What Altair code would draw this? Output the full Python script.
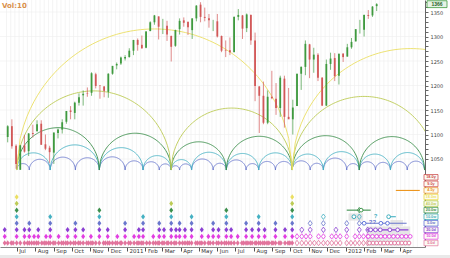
import altair as alt
import numpy as np
import pandas as pd

# ---------------- weekly price bars ----------------
week_start = pd.date_range("2010-06-14", "2012-02-20", freq="W-MON")
opens = [1095, 1117, 1077, 1028, 1078, 1066, 1103, 1107, 1122, 1080, 1073, 1063, 1103, 1110, 1126, 1149, 1144, 1165, 1180, 1184,
         1185, 1223, 1200, 1198, 1187, 1224, 1241, 1245, 1255,
         1258, 1271, 1293, 1283, 1277, 1311, 1329, 1341, 1321, 1322, 1301, 1281, 1315, 1333, 1330, 1313, 1337, 1365, 1340, 1337,
         1331, 1331, 1301, 1272, 1272, 1268, 1340, 1343, 1317, 1344, 1292, 1198, 1179, 1124, 1177, 1173, 1154, 1214, 1136, 1131,
         1158, 1224, 1238, 1284, 1253, 1263, 1216, 1159, 1244, 1256, 1220, 1265,
         1259, 1278, 1290, 1316, 1314, 1344, 1343, 1362]
highs = [1119, 1131, 1080, 1078, 1099, 1103, 1120, 1129, 1129, 1100, 1077, 1104, 1112, 1131, 1148, 1158, 1167, 1184, 1190, 1196,
         1227, 1226, 1200, 1199, 1225, 1240, 1247, 1259, 1262,
         1276, 1293, 1296, 1302, 1311, 1331, 1344, 1341, 1336, 1332, 1302, 1314, 1337, 1339, 1330, 1337, 1364, 1370, 1359, 1346,
         1334, 1346, 1302, 1292, 1298, 1341, 1356, 1344, 1347, 1345, 1308, 1199, 1208, 1190, 1230, 1205, 1220, 1220, 1195, 1171,
         1224, 1239, 1292, 1285, 1277, 1266, 1217, 1253, 1267, 1266, 1265, 1266,
         1285, 1297, 1315, 1334, 1345, 1354, 1362, 1368]
lows = [1084, 1071, 1030, 1028, 1063, 1056, 1094, 1105, 1079, 1068, 1042, 1040, 1092, 1102, 1122, 1131, 1131, 1159, 1159, 1177,
        1179, 1194, 1173, 1176, 1175, 1222, 1233, 1242, 1251,
        1257, 1262, 1271, 1275, 1276, 1311, 1324, 1294, 1305, 1291, 1249, 1279, 1304, 1320, 1303, 1295, 1331, 1329, 1331, 1318,
        1311, 1298, 1268, 1258, 1262, 1268, 1333, 1295, 1309, 1283, 1168, 1103, 1121, 1121, 1172, 1140, 1136, 1114, 1132, 1100,
        1158, 1191, 1221, 1215, 1226, 1209, 1158, 1158, 1232, 1209, 1202, 1248,
        1259, 1275, 1290, 1306, 1300, 1336, 1340, 1352]
closes = [1117, 1076, 1040, 1078, 1065, 1102, 1101, 1121, 1079, 1071, 1064, 1104, 1110, 1125, 1148, 1146, 1165, 1176, 1183, 1183,
          1225, 1199, 1199, 1189, 1224, 1240, 1244, 1257, 1258,
          1271, 1293, 1283, 1276, 1310, 1329, 1343, 1320, 1321, 1304, 1279, 1313, 1332, 1328, 1319, 1337, 1363, 1340, 1338, 1333,
          1331, 1300, 1271, 1271, 1268, 1340, 1344, 1316, 1345, 1292, 1199, 1179, 1124, 1177, 1174, 1154, 1216, 1136, 1131, 1155,
          1224, 1238, 1285, 1253, 1263, 1216, 1159, 1244, 1255, 1219, 1265, 1258,
          1278, 1289, 1315, 1316, 1344, 1342, 1361, 1366]

# ---------------- cycle troughs (date, highest cycle level ending there) ----------------
trough_dates = ["2010-06-11", "2010-07-01", "2010-07-14", "2010-07-22", "2010-07-30", "2010-08-06", "2010-08-19", "2010-08-26",
                "2010-09-09", "2010-09-24", "2010-10-07", "2010-10-20", "2010-11-02", "2010-11-16", "2010-11-30", "2010-12-16",
                "2010-12-29", "2011-01-13", "2011-01-21", "2011-01-28", "2011-02-14", "2011-02-24", "2011-03-04", "2011-03-16",
                "2011-03-24", "2011-03-30", "2011-04-08", "2011-04-19", "2011-05-06", "2011-05-17", "2011-05-25", "2011-06-03",
                "2011-06-16", "2011-06-24", "2011-07-05", "2011-07-19", "2011-07-29", "2011-08-09", "2011-08-19", "2011-09-06",
                "2011-09-22", "2011-10-04"]
trough_levels = [3, 8, 3, 4, 2, 3, 2, 5, 2, 3, 4, 3, 2, 6, 3, 2, 4, 2, 3, 5, 2, 4, 3, 7, 3, 4, 3, 5, 3, 2, 4, 3, 6, 3, 2, 4, 3,
                 5, 3, 4, 3, 8]
# 5-day troughs between the larger ones
minor_dates = ["2010-06-16", "2010-06-22", "2010-06-25", "2010-07-07", "2010-07-19", "2010-07-26", "2010-08-03", "2010-08-12",
               "2010-08-16", "2010-08-23", "2010-08-31", "2010-09-03", "2010-09-14", "2010-09-17", "2010-09-21", "2010-09-29",
               "2010-10-04", "2010-10-12", "2010-10-15", "2010-10-26", "2010-10-29", "2010-11-05", "2010-11-10", "2010-11-23",
               "2010-11-26", "2010-12-03", "2010-12-08", "2010-12-13", "2010-12-21", "2010-12-23", "2011-01-04", "2011-01-07",
               "2011-01-18", "2011-01-25", "2011-02-03", "2011-02-08", "2011-02-18", "2011-02-22", "2011-03-01", "2011-03-09",
               "2011-03-11", "2011-03-21", "2011-04-04", "2011-04-12", "2011-04-15", "2011-04-26", "2011-04-29", "2011-05-03",
               "2011-05-11", "2011-05-20", "2011-05-31", "2011-06-08", "2011-06-13", "2011-06-20", "2011-06-29", "2011-07-12",
               "2011-07-15", "2011-07-22", "2011-07-26", "2011-08-03", "2011-08-05", "2011-08-12", "2011-08-16", "2011-08-23",
               "2011-08-26", "2011-08-31", "2011-09-02", "2011-09-12", "2011-09-15", "2011-09-27", "2011-09-30"]
# projected troughs (hollow markers)
proj_dates = ["2011-10-12", "2011-10-20", "2011-10-27", "2011-11-03", "2011-11-10", "2011-11-17", "2011-11-25", "2011-12-02",
              "2011-12-09", "2011-12-16", "2011-12-23", "2012-01-03", "2012-01-10", "2012-01-17", "2012-01-24", "2012-01-31",
              "2012-02-07"]
proj_levels = [2, 3, 2, 4, 1, 2, 5, 1, 2, 3, 2, 4, 1, 2, 6, 2, 3]
# further troughs past the right edge, used only to close the arcs
arc_next_dates = ["2012-02-20", "2012-03-16", "2012-04-13", "2012-05-12", "2012-05-31", "2012-11-03"]
arc_next_levels = [4, 5, 4, 6, 7, 8]

cycle_names = ["5.0d", "10.0d", "20.0d", "5.0w", "10.0w", "20.0w", "40.0w", "18.0m", "4.5y", "9.0y", "18.0y"]
cycle_colors = ["#e2739c", "#e23ee2", "#8a3fd2", "#5066d6", "#2aa5b5", "#2e8c3c", "#a8c43a", "#e8d42a", "#ec9620",
                "#d24a4a", "#c83c3c"]
arc_colors = ["#e2739c", "#e23ee2", "#8a3fd2", "#6876cc", "#44b0c2", "#3c8f4c", "#bccb55", "#ebdf63", "#ec9620",
              "#d24a4a", "#c83c3c"]

X_DOMAIN = [alt.DateTime(year=2010, month=6, date=11, hours=12), alt.DateTime(year=2012, month=5, date=4, hours=8)]
PRICE = alt.Scale(domain=[870.4, 1374.5], nice=False, zero=False)
XS = alt.Scale(domain=X_DOMAIN, nice=False)
ARC_BASE = 1027.5          # common trough line of the arcs
ARC_RATIO = 1.2518         # price units per day, keeps the arcs round on screen
ROW0, ROW_STEP = 865.16, 13.41   # marker rows sit below the price range: row n at ROW0 + n * ROW_STEP
ROW = f"{ROW0} + datum.level * {ROW_STEP}"

# ---------------- frames ----------------
candles = pd.DataFrame({"date": week_start + pd.Timedelta(days=2), "open": opens, "high": highs,
                        "low": lows, "close": closes})

all_t = pd.DataFrame({"date": pd.to_datetime(trough_dates + proj_dates + arc_next_dates),
                      "level": trough_levels + proj_levels + arc_next_levels})
arc_rows = []
for lvl in range(4, 9):
    ts = sorted(all_t.loc[all_t.level >= lvl, "date"].tolist())
    for k, (a, b) in enumerate(zip(ts[:-1], ts[1:])):
        half = (b - a).total_seconds() / 86400 / 2
        for t in np.linspace(-1, 1, 81):
            arc_rows.append({"date": a + pd.Timedelta(days=(t + 1) * half),
                             "p": ARC_BASE + ARC_RATIO * half * np.sqrt(max(0.0, 1 - t * t)),
                             "arc": f"{lvl}-{k}", "level": lvl})
arcs = pd.DataFrame(arc_rows)

dia_rows = []
for d, top in zip(trough_dates, trough_levels):
    for lv in range(1, top + 1):
        dia_rows.append({"date": d, "level": lv, "kind": "filled"})
for d in minor_dates:
    dia_rows.append({"date": d, "level": 1, "kind": "filled"})
for d, top in zip(proj_dates, proj_levels):
    for lv in range(1, top + 1):
        dia_rows.append({"date": d, "level": lv, "kind": "hollow"})
dia = pd.DataFrame(dia_rows)

grid_weeks = pd.DataFrame({"date": pd.date_range("2010-06-14", "2012-05-01", freq="W-MON")})
grid_prices = pd.DataFrame({"p": [1050, 1100, 1150, 1200, 1250, 1300, 1350]})

color_full = alt.Scale(domain=list(range(1, 12)), range=cycle_colors)
color_arc = alt.Scale(domain=list(range(1, 12)), range=arc_colors)
DIAMOND = "M0,-1L0.72,0L0,1L-0.72,0Z"

month_ticks = [alt.DateTime(year=y, month=m, date=1) for y, m in
               [(2010, m) for m in range(7, 13)] + [(2011, m) for m in range(1, 13)] + [(2012, m) for m in range(1, 5)]]
x_axis = alt.Axis(values=month_ticks, grid=False, labelFontSize=5.5,
                  labelColor="#333", labelAlign="left", labelPadding=-3, tickSize=4, tickColor="#555",
                  domainColor="#888", title=None, labelFont="DejaVu Sans", orient="bottom", labelOffset=2,
                  zindex=2,
                  labelExpr="month(datum.value) == 0 ? timeFormat(datum.value, '%Y') : timeFormat(datum.value, '%b')")
y_axis = alt.Axis(orient="right", values=list(range(1050, 1371, 10)), grid=False, labelFontSize=5, labelColor="#444",
                  tickSize=3, tickColor="#666", domainColor="#666", labelPadding=2, title=None, labelFont="DejaVu Sans",
                  labelExpr="datum.value % 50 == 0 ? datum.value : ''")

# every layer carries the same axis definition so the shared axes merge cleanly
AX_X = dict(scale=XS, axis=x_axis)
AX_Y = dict(scale=PRICE, axis=y_axis)

vgrid = alt.Chart(grid_weeks).mark_rule(color="#ececec", strokeWidth=0.6).encode(
    x=alt.X("date:T", **AX_X))
hgrid = alt.Chart(grid_prices).mark_rule(color="#eeeeee", strokeWidth=0.6).encode(
    y=alt.Y("p:Q", **AX_Y))

arc_layer = alt.Chart(arcs).mark_line(clip=True, strokeWidth=0.9).encode(
    x=alt.X("date:T", **AX_X),
    y=alt.Y("p:Q", **AX_Y),
    color=alt.Color("level:O", scale=color_arc, legend=None),
    detail="arc:N")

up = "datum.close >= datum.open"
wick = alt.Chart(candles).mark_rule(strokeWidth=0.7).encode(
    x=alt.X("date:T", **AX_X),
    y=alt.Y("low:Q", **AX_Y), y2="high:Q",
    color=alt.condition(up, alt.value("#3f9a3f"), alt.value("#d25858")))
body = alt.Chart(candles).mark_bar(width=1.8).encode(
    x=alt.X("date:T", **AX_X),
    y=alt.Y("open:Q", **AX_Y), y2="close:Q",
    color=alt.condition(up, alt.value("#3f9a3f"), alt.value("#d25858")))

last = candles.tail(1).assign(txt=lambda d: d["close"].astype(int).astype(str))
last_box = alt.Chart(last).transform_calculate(hi="datum.close + 7", lo="datum.close - 7").mark_rect(
    fill="#e6f3e6", stroke="#3f9a3f", strokeWidth=0.8).encode(
    x=alt.value(427), x2=alt.value(447), y=alt.Y("hi:Q", **AX_Y), y2="lo:Q")
last_txt = alt.Chart(last).mark_text(fontSize=5, color="#1f5f1f", fontWeight="bold").encode(
    x=alt.value(437), y=alt.Y("close:Q", **AX_Y), text="txt:N")

vol = alt.Chart(pd.DataFrame({"t": ["Vol:10"]})).mark_text(
    align="left", baseline="top", fontSize=7, fontWeight="bold", color="#d9904a", font="DejaVu Sans").encode(
    x=alt.value(2), y=alt.value(2), text="t:N")

# ---------------- trough markers panel ----------------
filled = alt.Chart(dia[dia.kind == "filled"]).transform_calculate(row=ROW).mark_point(
    filled=True, shape=DIAMOND, size=30, opacity=1).encode(
    x=alt.X("date:T", **AX_X), y=alt.Y("row:Q", **AX_Y),
    color=alt.Color("level:O", scale=color_full, legend=None))
hollow = alt.Chart(dia[dia.kind == "hollow"]).transform_calculate(row=ROW).mark_point(
    filled=False, shape=DIAMOND, size=30, strokeWidth=0.8, opacity=1).encode(
    x=alt.X("date:T", **AX_X), y=alt.Y("row:Q", **AX_Y),
    color=alt.Color("level:O", scale=color_full, legend=None))

# projected windows
proj_bands = pd.DataFrame({"start": ["2012-01-06", "2012-03-16", "2012-02-05"],
                           "end": ["2012-01-30", "2012-04-06", "2012-04-18"],
                           "lo": [4.4, 3.6, 0.5], "hi": [5.5, 4.5, 3.5]})
bands = alt.Chart(proj_bands).transform_calculate(
    r1=f"{ROW0} + datum.lo * {ROW_STEP}", r2=f"{ROW0} + datum.hi * {ROW_STEP}").mark_rect(
    color="#dcdcdc", opacity=0.7).encode(
    x=alt.X("start:T", **AX_X), x2="end:T", y=alt.Y("r1:Q", **AX_Y), y2="r2:Q")
proj_lines = pd.DataFrame({"level": [6, 5, 4, 3, 2, 1, 9],
                           "start": ["2012-01-03", "2012-03-13", "2012-01-27", "2012-02-05", "2012-02-08", "2012-02-08",
                                     "2012-03-25"],
                           "end": ["2012-02-12", "2012-03-25", "2012-04-12", "2012-04-15", "2012-04-18", "2012-04-18",
                                   "2012-05-04"]})
plines = alt.Chart(proj_lines).transform_calculate(row=ROW).mark_rule(strokeWidth=1.1).encode(
    x=alt.X("start:T", **AX_X), x2="end:T", y=alt.Y("row:Q", **AX_Y),
    color=alt.Color("level:O", scale=color_full, legend=None))
circ_dates = ["2012-01-27", "2012-01-15", "2012-03-13", "2012-02-01", "2012-02-29", "2012-03-11",
              "2012-02-12", "2012-02-20", "2012-02-28", "2012-03-15", "2012-03-28",
              "2012-02-08", "2012-02-15", "2012-02-22", "2012-02-29", "2012-03-07", "2012-03-14", "2012-03-21",
              "2012-03-28", "2012-04-04", "2012-04-11", "2012-04-18",
              "2012-02-10", "2012-02-16", "2012-02-22", "2012-02-28", "2012-03-05", "2012-03-11", "2012-03-17",
              "2012-03-23", "2012-03-29", "2012-04-04", "2012-04-10", "2012-04-16"]
circ_levels = [6, 5, 5, 4, 4, 4, 3, 3, 3, 3, 3] + [2] * 11 + [1] * 12
pcirc = alt.Chart(pd.DataFrame({"date": circ_dates, "level": circ_levels})).transform_calculate(row=ROW).mark_point(
    filled=True, fill="white", size=14, strokeWidth=0.9, opacity=1).encode(
    x=alt.X("date:T", **AX_X), y=alt.Y("row:Q", **AX_Y),
    stroke=alt.Color("level:O", scale=color_full, legend=None))
pq = alt.Chart(pd.DataFrame({"date": ["2012-02-20", "2012-02-12", "2012-02-18"], "level": [5, 4, 4],
                             "t": ["?", "?", "?"]})).transform_calculate(row=ROW).mark_text(
    fontSize=6, fontWeight="bold", dy=-1).encode(
    x=alt.X("date:T", **AX_X), y=alt.Y("row:Q", **AX_Y),
    color=alt.Color("level:O", scale=color_full, legend=None), text="t:N")

# cycle legend boxes on the right
legend_df = pd.DataFrame({"level": list(range(1, 12)), "name": cycle_names})
lbox = alt.Chart(legend_df).transform_calculate(
    r1=f"{ROW0} + (datum.level - 0.42) * {ROW_STEP}", r2=f"{ROW0} + (datum.level + 0.42) * {ROW_STEP}").mark_rect(
    fill="#fbfbf4", strokeWidth=0.7).encode(
    x=alt.value(424), x2=alt.value(438), y=alt.Y("r1:Q", **AX_Y), y2="r2:Q",
    stroke=alt.Color("level:O", scale=color_full, legend=None))
ltxt = alt.Chart(legend_df).transform_calculate(row=ROW).mark_text(fontSize=3.8, fontWeight="bold").encode(
    x=alt.value(431), y=alt.Y("row:Q", **AX_Y), text="name:N",
    color=alt.Color("level:O", scale=color_full, legend=None))

footer = alt.Chart(pd.DataFrame({"a": [0]})).mark_rect(color="#e9e9e9").encode(
    x=alt.value(0), x2=alt.value(450), y=alt.value(255), y2=alt.value(262))

chart = alt.layer(vgrid, hgrid, arc_layer, wick, body, last_box, last_txt, vol,
                  bands, filled, hollow, plines, pcirc, pq, lbox, ltxt, footer).properties(
    width=425, height=247,
    padding={"left": 0, "top": 0, "right": 25, "bottom": 11},
    autosize=alt.AutoSizeParams(type="none"),
    background="white",
).configure_view(stroke=None)

chart.save("out.html", embed_options={"renderer": "svg", "actions": False})
